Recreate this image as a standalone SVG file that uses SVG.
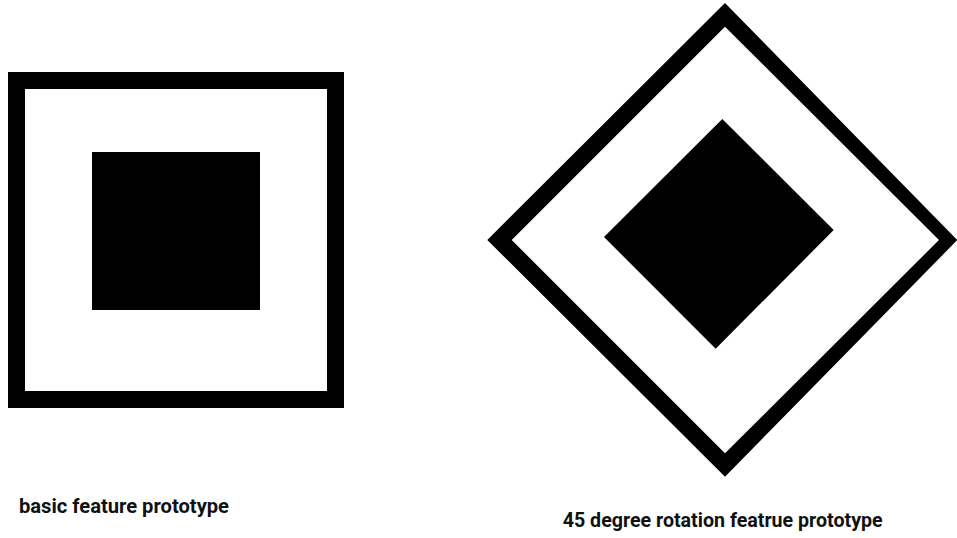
<svg xmlns="http://www.w3.org/2000/svg" width="957" height="538" viewBox="0 0 957 538">
<style>
.lbl{font-family:Roboto,"Liberation Sans",sans-serif;font-weight:bold;font-size:20px;fill:#111}
</style>
<rect width="957" height="538" fill="#fff"/>
<g id="basic">
<rect x="16.5" y="80.5" width="319" height="319" fill="none" stroke="#000" stroke-width="17"/>
<rect x="92" y="152" width="168" height="158" fill="#000"/>
</g>
<g id="rotated">
<path d="M725,3 L957.3,240 L725,476.7 L487.3,240 Z M725,26.7 L511.7,240 L725,453.3 L939,240 Z" fill="#000" fill-rule="evenodd"/>
<polygon points="722.3,119 833.7,230 715.7,348.7 604,237" fill="#000"/>
</g>
<text class="lbl" x="19" y="512.5" textLength="210" lengthAdjust="spacingAndGlyphs">basic feature prototype</text>
<text class="lbl" x="562.7" y="526.5" textLength="320" lengthAdjust="spacingAndGlyphs">45 degree rotation featrue prototype</text>
</svg>
